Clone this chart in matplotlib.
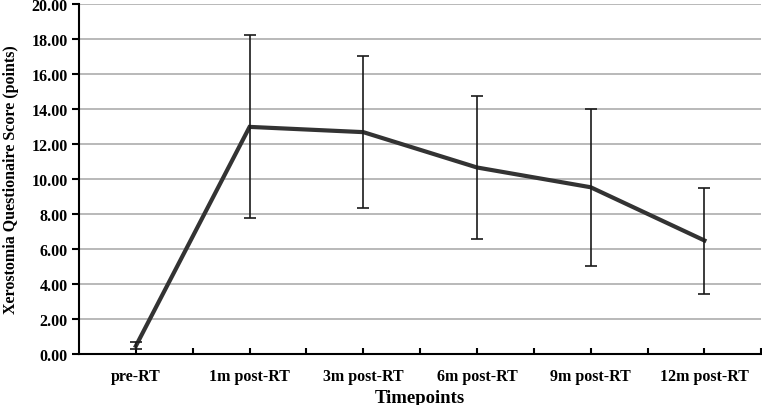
import numpy as np
import matplotlib.pyplot as plt

# Datos
timepoints = ['pre-RT', '1m post-RT', '3m post-RT', '6m post-RT', '9m post-RT', '12m post-RT']
score_mean = [0.45, 12.97, 12.67, 10.65, 9.52, 6.48]
error_low = [0.25, 7.77, 8.32, 6.55, 5.02, 3.42]
error_high = [0.67, 18.22, 17.0, 14.76, 14.02, 9.48]

plt.rcParams['font.family'] = ['Liberation Serif', 'DejaVu Serif']
plt.rcParams['font.weight'] = 'bold'

fig = plt.figure(figsize=(7.62, 4.06), dpi=100)
ax = fig.add_axes([0.1037, 0.126, 0.8953, 0.862])

x = np.arange(len(timepoints))
mean = np.array(score_mean)
yerr = [mean - np.array(error_low), np.array(error_high) - mean]

ax.plot(x, mean, color='#333333', linewidth=3, solid_joinstyle='miter', zorder=3)
ax.errorbar(x, mean, yerr=yerr, fmt='none', ecolor='#1a1a1a', elinewidth=1.2,
            capsize=4, capthick=1.2, zorder=4)

ax.set_xlim(-0.5, 5.5)
ax.set_ylim(0, 20)
ax.set_yticks(np.arange(0, 21, 2))
ax.set_yticklabels([f'{v:.2f}' for v in np.arange(0, 21, 2)], fontsize=11.5, fontweight='bold')

# marcas cada media categoria, etiquetas solo en las categorias
pos = np.arange(0, 5.6, 0.5)
etiquetas = [timepoints[int(p)] if p == int(p) else '' for p in pos]
ax.set_xticks(pos)
ax.set_xticklabels(etiquetas, fontsize=11.5, fontweight='bold')
ax.tick_params(axis='x', which='major', direction='in', length=4, width=1.5, pad=10)
ax.tick_params(axis='y', which='major', direction='out', length=5, width=1.5, pad=3)

ax.grid(axis='y', color='#b3b3b3', linewidth=1.3)
ax.set_axisbelow(True)
for side in ['top', 'right']:
    ax.spines[side].set_visible(False)
ax.spines['left'].set_linewidth(1.5)
ax.spines['bottom'].set_linewidth(1.5)

ax.set_xlabel('Timepoints', fontsize=13.5, fontweight='bold', labelpad=4)
ax.set_ylabel('Xerostomia Questionaire Score (points)', fontsize=11.5, fontweight='bold', labelpad=9)

fig.savefig('out.png', dpi=100)
